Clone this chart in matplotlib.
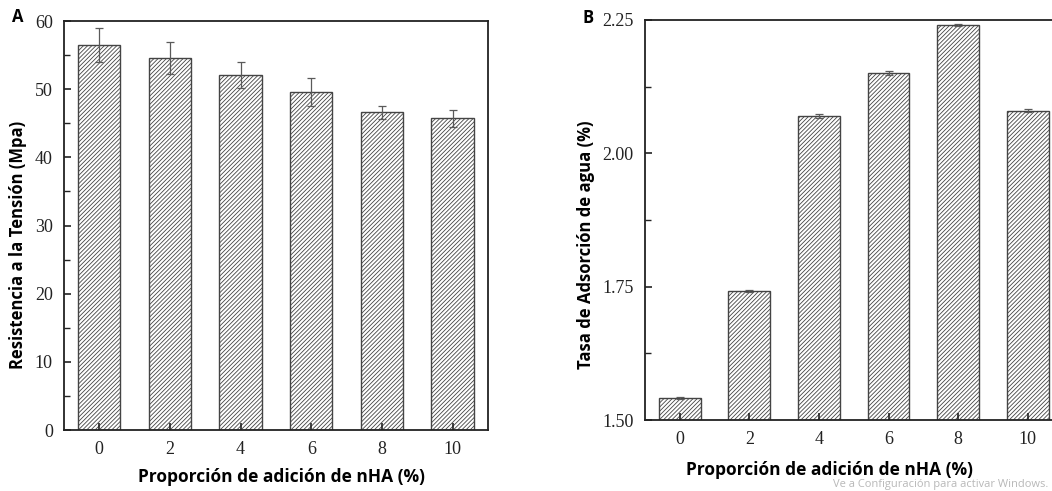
import matplotlib.pyplot as plt
from matplotlib import ticker

# data
nha = [0, 2, 4, 6, 8, 10]
tension = [56.5, 54.6, 52.1, 49.6, 46.6, 45.7]
tension_err = [2.5, 2.3, 1.9, 2.0, 1.0, 1.3]
adsorcion = [1.542, 1.741, 2.070, 2.150, 2.240, 2.080]
adsorcion_err = [0.002, 0.002, 0.004, 0.004, 0.002, 0.002]

plt.rcParams['hatch.color'] = '#8c8c8c'
plt.rcParams['hatch.linewidth'] = 0.6

fig = plt.figure(figsize=(10.52, 4.91), dpi=100)
ax_a = fig.add_axes([0.0608, 0.1242, 0.403, 0.833])
ax_b = fig.add_axes([0.613, 0.1446, 0.397, 0.815])

serif = 'Liberation Serif'
sans = 'Open Sans'


def bar_panel(ax, values, errs):
    ax.bar(nha, values, width=1.2, yerr=errs, color='white', edgecolor='#444444',
           linewidth=1.0, hatch='/' * 8, error_kw=dict(ecolor='#5a5a5a', elinewidth=0.9,
                                                      capsize=3, capthick=0.9))
    ax.set_xlim(-1, 11)
    ax.set_xticks(nha)
    for side in ['top', 'right', 'left', 'bottom']:
        ax.spines[side].set_linewidth(1.3)
        ax.spines[side].set_color('#222222')
    ax.tick_params(which='major', direction='in', length=5, width=1.2, top=False,
                   right=False, labelsize=13, pad=8, colors='#222222')
    ax.tick_params(which='minor', direction='in', length=4, width=1.0, top=False,
                   right=False, colors='#222222')


bar_panel(ax_a, tension, tension_err)
ax_a.set_ylim(0, 60)
ax_a.yaxis.set_major_locator(ticker.MultipleLocator(10))
ax_a.yaxis.set_minor_locator(ticker.MultipleLocator(5))

bar_panel(ax_b, adsorcion, adsorcion_err)
ax_b.set_ylim(1.5, 2.25)
ax_b.yaxis.set_major_locator(ticker.MultipleLocator(0.25))
ax_b.yaxis.set_minor_locator(ticker.MultipleLocator(0.125))
ax_b.yaxis.set_major_formatter(ticker.FormatStrFormatter('%.2f'))

for ax in [ax_a, ax_b]:
    for lab in ax.get_xticklabels() + ax.get_yticklabels():
        lab.set_fontfamily(serif)

# labels placed in figure coordinates like the reference
fig.text(18 / 1052, 1 - 245 / 491, 'Resistencia a la Tensión (Mpa)', rotation=90,
         ha='center', va='center', fontsize=12, fontweight='bold', family=sans)
fig.text(281 / 1052, 1 - 477 / 491, 'Proporción de adición de nHA (%)',
         ha='center', va='center', fontsize=12.5, fontweight='bold', family=sans)
fig.text(586 / 1052, 1 - 245 / 491, 'Tasa de Adsorción de agua (%)', rotation=90,
         ha='center', va='center', fontsize=12, fontweight='bold', family=sans)
fig.text(829 / 1052, 1 - 470 / 491, 'Proporción de adición de nHA (%)',
         ha='center', va='center', fontsize=12.5, fontweight='bold', family=sans)

fig.text(18 / 1052, 1 - 17 / 491, 'A', ha='center', va='center', fontsize=12,
         fontweight='bold', family=sans)
fig.text(588 / 1052, 1 - 18 / 491, 'B', ha='center', va='center', fontsize=12,
         fontweight='bold', family=sans)

fig.text(1048 / 1052, 1 - 484 / 491, 'Ve a Configuración para activar Windows.',
         ha='right', va='center', fontsize=8, color='#b8b8b8', family=sans)

fig.savefig('out.png', dpi=100)
